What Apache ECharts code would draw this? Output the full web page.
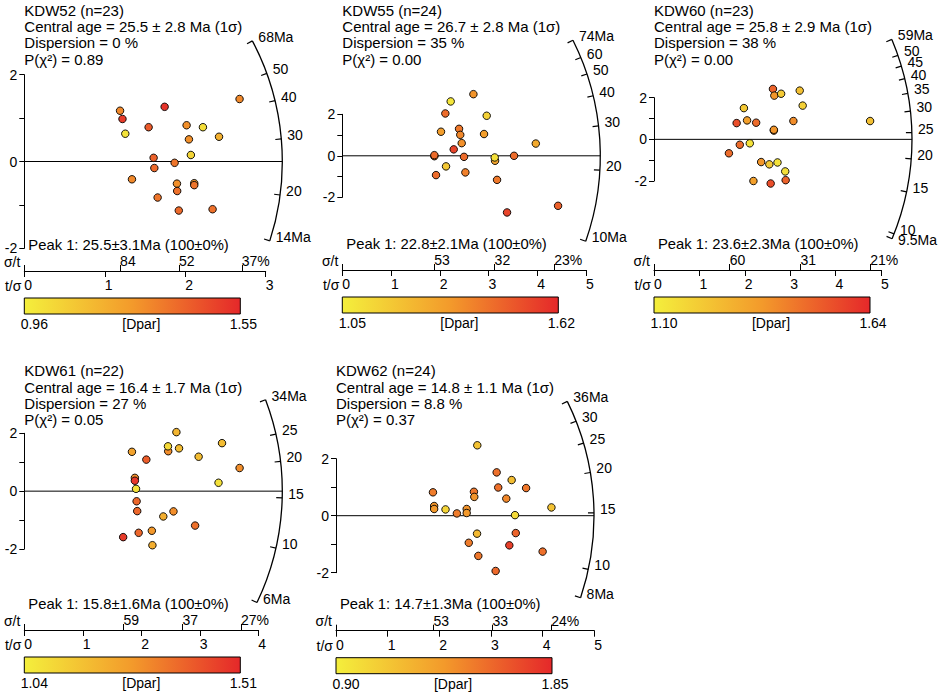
<!DOCTYPE html>
<html>
<head>
<meta charset="utf-8">
<script src="https://cdn.jsdelivr.net/npm/echarts@6/dist/echarts.min.js"></script>
<style>
html, body { margin: 0; padding: 0; background: #fff; }
#chart { width: 941px; height: 693px; }
</style>
</head>
<body>
<div id="chart"></div>
<script>
// radial plots: x = t/sigma, y = standardised estimate, colour = Dpar
var kdw52X = [1.19, 1.22, 1.255, 1.744, 1.545, 2.675, 2.017, 2.22, 2.42, 2.046, 2.07, 1.607, 1.868, 1.616, 1.338, 1.897, 2.112, 2.112, 1.90, 1.657, 1.92, 2.34];
var kdw52Y = [1.17, 0.98, 0.64, 1.26, 0.79, 1.44, 0.835, 0.79, 0.57, 0.51, 0.15, 0.085, -0.03, -0.15, -0.41, -0.51, -0.50, -0.545, -0.68, -0.83, -1.13, -1.10];
var kdw52Dpar = [1.30, 1.50, 1.00, 1.52, 1.42, 1.30, 1.28, 1.02, 1.18, 1.28, 1.05, 1.40, 1.35, 1.38, 1.30, 1.28, 1.26, 1.35, 1.36, 1.35, 1.38, 1.36];
var kdw52Ages = [68, 50, 40, 30, 20, 14];
var kdw52Sigma = [84, 52, 37];

var kdw55X = [2.224, 2.69, 2.114, 2.963, 2.025, 2.395, 2.42, 2.908, 2.45, 3.97, 2.286, 1.889, 1.889, 2.497, 3.134, 3.127, 3.524, 2.128, 1.923, 2.525, 3.175, 3.38, 4.427];
var kdw55Y = [2.62, 2.97, 2.04, 1.93, 1.16, 1.30, 1.01, 1.05, 0.61, 0.59, 0.31, -0.02, 0.03, -0.05, -0.24, -0.08, 0.0, -0.51, -0.93, -0.80, -1.16, -2.73, -2.41];
var kdw55Dpar = [1.08, 1.35, 1.45, 1.15, 1.32, 1.42, 1.38, 1.32, 1.36, 1.28, 1.55, 1.40, 1.45, 1.45, 1.30, 1.10, 1.45, 1.18, 1.45, 1.40, 1.42, 1.55, 1.48];
var kdw55Ages = [74, 60, 50, 40, 30, 20, 10];
var kdw55Sigma = [53, 32, 23];

var kdw60X = [2.62, 2.65, 2.80, 3.21, 3.275, 1.98, 2.05, 1.82, 2.25, 3.07, 4.76, 2.64, 2.64, 1.89, 2.11, 1.65, 2.36, 2.54, 2.72, 2.89, 2.19, 2.57, 2.90];
var kdw60Y = [2.42, 2.10, 2.19, 2.34, 1.62, 1.50, 0.91, 0.78, 0.80, 0.88, 0.88, 0.42, 0.46, -0.26, -0.19, -0.67, -1.09, -1.20, -1.11, -1.54, -2.00, -2.12, -1.96];
var kdw60Dpar = [1.50, 1.38, 1.22, 1.25, 1.20, 1.22, 1.35, 1.55, 1.48, 1.40, 1.25, 1.40, 1.38, 1.48, 1.14, 1.48, 1.38, 1.22, 1.14, 1.15, 1.35, 1.55, 1.50];
var kdw60Ages = [59, 50, 45, 40, 35, 30, 25, 20, 15, 10, 9.5];
var kdw60Sigma = [60, 31, 21];

var kdw61X = [2.60, 2.46, 2.456, 2.645, 1.84, 2.086, 2.98, 3.38, 3.68, 3.32, 1.89, 1.89, 1.91, 1.92, 1.93, 2.376, 2.55, 2.92, 2.18, 1.955, 1.69, 2.19];
var kdw61Y = [2.04, 1.38, 1.55, 1.48, 1.36, 1.09, 1.19, 1.66, 0.80, 0.29, 0.46, 0.36, 0.08, -0.35, -0.69, -0.875, -0.70, -1.19, -1.37, -1.44, -1.59, -1.87];
var kdw61Dpar = [1.20, 1.30, 1.10, 1.18, 1.25, 1.40, 1.18, 1.18, 1.30, 1.08, 1.30, 1.48, 1.08, 1.38, 1.38, 1.22, 1.30, 1.36, 1.28, 1.38, 1.47, 1.22];
var kdw61Ages = [34, 25, 20, 15, 10, 6];
var kdw61Sigma = [59, 37, 27];

var kdw62X = [2.735, 3.11, 3.40, 3.14, 3.68, 1.877, 2.67, 2.677, 3.296, 1.90, 1.90, 2.12, 2.34, 2.53, 2.53, 4.17, 3.465, 2.73, 3.48, 2.57, 3.355, 4.0, 2.755, 3.09];
var kdw62Y = [2.47, 1.52, 1.25, 0.99, 0.97, 0.82, 0.84, 0.66, 0.60, 0.34, 0.235, 0.22, 0.08, 0.235, 0.094, 0.29, 0.02, -0.63, -0.61, -0.95, -1.04, -1.26, -1.41, -1.94];
var kdw62Dpar = [1.15, 1.55, 1.18, 1.55, 1.52, 1.50, 1.52, 1.40, 1.45, 1.40, 1.38, 1.05, 1.50, 1.40, 1.38, 1.15, 1.02, 1.20, 1.60, 1.50, 1.75, 1.55, 1.52, 1.58];
var kdw62Ages = [36, 30, 25, 20, 15, 10, 8];
var kdw62Sigma = [53, 33, 24];

var sampleNames = ['KDW52', 'KDW55', 'KDW60', 'KDW61', 'KDW62'];
var grainCounts = [23, 24, 23, 22, 24];
var centralAges = ['25.5 ± 2.8', '26.7 ± 2.8', '25.8 ± 2.9', '16.4 ± 1.7', '14.8 ± 1.1'];
var dispersions = ['0', '35', '38', '27', '8.8'];
var pChi2 = ['0.89', '0.00', '0.00', '0.05', '0.37'];
var peakAges = [25.5, 22.8, 23.6, 15.8, 14.7];
var peakLabels = ['25.5±3.1', '22.8±2.1', '23.6±2.3', '15.8±1.6', '14.7±1.3'];
var dparMin = [0.96, 1.05, 1.10, 1.04, 0.90];
var dparMax = [1.55, 1.62, 1.64, 1.51, 1.85];
var tSigmaMax = [3, 5, 5, 4, 5];

var panels = [
    {x: kdw52X, y: kdw52Y, dpar: kdw52Dpar, ages: kdw52Ages, sigma: kdw52Sigma},
    {x: kdw55X, y: kdw55Y, dpar: kdw55Dpar, ages: kdw55Ages, sigma: kdw55Sigma},
    {x: kdw60X, y: kdw60Y, dpar: kdw60Dpar, ages: kdw60Ages, sigma: kdw60Sigma},
    {x: kdw61X, y: kdw61Y, dpar: kdw61Dpar, ages: kdw61Ages, sigma: kdw61Sigma},
    {x: kdw62X, y: kdw62Y, dpar: kdw62Dpar, ages: kdw62Ages, sigma: kdw62Sigma}
];

// pixel boxes of each plot (grid), axis line and header position
var boxes = [
    {left: 24.3, top: 74.7, width: 241.4, height: 173.6, axisY: 271, headerY: 1.8},
    {left: 342.3, top: 114.3, width: 243.7, height: 83, axisY: 270, headerY: 1.8},
    {left: 654, top: 97.7, width: 227, height: 83.3, axisY: 270, headerY: 1.8},
    {left: 24.3, top: 433.3, width: 234, height: 115.7, axisY: 630, headerY: 362.5},
    {left: 336, top: 458.7, width: 258.3, height: 114, axisY: 630.7, headerY: 362.5}
];

var FONT = '"Liberation Sans", Arial, Helvetica, sans-serif';
var ARC_R = 258;
var BAR_W = 216;
var BAR_H = 16;
var dparColors = ['#f4ef3c', '#f39a2b', '#e5282a'];

var myChart = echarts.init(document.getElementById('chart'), null, {renderer: 'svg'});

var grid = [], xAxis = [], yAxis = [], series = [], visualMap = [], graphic = [];

panels.forEach(function (p, i) {
    var b = boxes[i];
    var offset = b.axisY - (b.top + b.height);
    var t0 = peakAges[i];
    var ages = p.ages;
    var sig = p.sigma;

    grid.push({left: b.left, top: b.top, width: b.width, height: b.height});

    // t/sigma axis
    xAxis.push({
        gridIndex: i, type: 'value', min: 0, max: tSigmaMax[i], interval: 1,
        position: 'bottom', offset: offset,
        axisLine: {show: true, onZero: false, lineStyle: {color: '#000', width: 1}},
        axisTick: {show: true, length: 6, lineStyle: {color: '#000'}},
        axisLabel: {color: '#000', fontSize: 14, fontFamily: FONT, align: 'left', margin: 7},
        splitLine: {show: false}
    });
    // sigma/t axis (same line, ticks and labels above)
    xAxis.push({
        gridIndex: i, type: 'value', min: 0, max: tSigmaMax[i],
        position: 'bottom', offset: offset,
        axisLine: {show: false, onZero: false},
        axisTick: {show: true, inside: true, length: 6, lineStyle: {color: '#000'},
            customValues: [0].concat(sig.map(function (s) { return 100 / s; }))},
        axisLabel: {show: true, inside: true, color: '#000', fontSize: 14, fontFamily: FONT, align: 'left', margin: 3,
            customValues: sig.map(function (s) { return 100 / s; }),
            formatter: function (v) {
                var pct = Math.round(100 / v);
                return pct === sig[sig.length - 1] ? pct + '%' : String(pct);
            }},
        splitLine: {show: false}
    });

    yAxis.push({
        gridIndex: i, type: 'value', min: -2, max: 2, interval: 1,
        axisLine: {show: true, onZero: false, lineStyle: {color: '#000', width: 1}},
        axisTick: {show: true, length: 5, lineStyle: {color: '#000'}},
        axisLabel: {color: '#000', fontSize: 14, fontFamily: FONT, margin: 7, lineHeight: 14,
            formatter: function (v) { return v % 2 === 0 ? String(v) : ''; }},
        splitLine: {show: false}
    });

    // arc age scale + zero line
    series.push({
        type: 'custom',
        xAxisIndex: 2 * i, yAxisIndex: i,
        clip: false, silent: true, z: 2,
        data: ages.map(function (a) { return [0, 0, a]; }),
        renderItem: function (params, api) {
            var o = api.coord([0, 0]);
            var ux = api.coord([1, 0])[0] - o[0];
            var uy = o[1] - api.coord([0, 1])[1];
            function ang(a) { return Math.atan2(uy * Math.log(a / t0), ux); }
            var idx = params.dataIndex;
            var a = api.value(2);
            var th = ang(a);
            var c = Math.cos(th), s = Math.sin(th);
            var px = o[0] + ARC_R * c, py = o[1] - ARC_R * s;
            var label = String(a);
            var ly = py - 4;
            if (idx === 0 || idx === ages.length - 1) label += 'Ma';
            if (idx === ages.length - 1 && idx > 0) {
                // keep the end label clear of its neighbour
                var prevY = o[1] - ARC_R * Math.sin(ang(ages[idx - 1])) - 4;
                if (ly < prevY + 10) ly = prevY + 10;
            }
            var children = [
                {type: 'line', shape: {x1: px, y1: py, x2: o[0] + (ARC_R - 6) * c, y2: o[1] - (ARC_R - 6) * s},
                    style: {stroke: '#000', lineWidth: 1.2}},
                {type: 'text', x: px + 6, y: ly,
                    style: {text: label, fill: '#000', fontSize: 14, fontFamily: FONT, align: 'left', verticalAlign: 'middle'}}
            ];
            if (idx === 0) {
                var thTop = ang(ages[0]), thBot = ang(ages[ages.length - 1]);
                children.push({type: 'arc',
                    shape: {cx: o[0], cy: o[1], r: ARC_R, startAngle: -thTop, endAngle: -thBot, clockwise: true},
                    style: {stroke: '#000', fill: 'none', lineWidth: 1.3}});
                children.push({type: 'line', shape: {x1: o[0], y1: o[1], x2: o[0] + ARC_R, y2: o[1]},
                    style: {stroke: '#000', lineWidth: 1}});
            }
            return {type: 'group', children: children};
        }
    });

    series.push({
        type: 'scatter',
        xAxisIndex: 2 * i, yAxisIndex: i,
        clip: false, z: 3,
        symbolSize: 7.5,
        itemStyle: {borderColor: '#000', borderWidth: 0.9, opacity: 1},
        data: p.x.map(function (v, k) { return [v, p.y[k], p.dpar[k]]; })
    });

    visualMap.push({
        type: 'continuous', show: false,
        seriesIndex: series.length - 1, dimension: 2,
        min: dparMin[i], max: dparMax[i],
        inRange: {color: dparColors}
    });

    // header text
    graphic.push({type: 'text', x: b.left, y: b.headerY, silent: true,
        style: {text: [
            sampleNames[i] + ' (n=' + grainCounts[i] + ')',
            'Central age = ' + centralAges[i] + ' Ma (1σ)',
            'Dispersion = ' + dispersions[i] + ' %',
            'P(χ²) = ' + pChi2[i]
        ].join('\n'), fill: '#000', fontSize: 15, fontFamily: FONT, lineHeight: 16.4, verticalAlign: 'top'}});

    graphic.push({type: 'text', x: b.left + 4, y: b.axisY - 26.5, silent: true,
        style: {text: 'Peak 1: ' + peakLabels[i] + 'Ma (100±0%)', fill: '#000', fontSize: 14.8, fontFamily: FONT, verticalAlign: 'middle'}});

    graphic.push({type: 'text', x: b.left - 4, y: b.axisY - 9.5, silent: true,
        style: {text: 'σ/t', fill: '#000', fontSize: 14, fontFamily: FONT, lineHeight: 14, align: 'right', verticalAlign: 'middle'}});
    graphic.push({type: 'text', x: b.left - 3, y: b.axisY + 15, silent: true,
        style: {text: 't/σ', fill: '#000', fontSize: 14, fontFamily: FONT, align: 'right', verticalAlign: 'middle'}});

    // colour bar for Dpar
    var barY = b.axisY + 27;
    graphic.push({type: 'rect', silent: true,
        shape: {x: b.left, y: barY, width: BAR_W, height: BAR_H},
        style: {stroke: '#000', lineWidth: 1,
            fill: new echarts.graphic.LinearGradient(0, 0, 1, 0, [
                {offset: 0, color: dparColors[0]},
                {offset: 0.5, color: dparColors[1]},
                {offset: 1, color: dparColors[2]}
            ])}});
    graphic.push({type: 'text', x: b.left + 10, y: barY + BAR_H + 10, silent: true,
        style: {text: dparMin[i].toFixed(2), fill: '#000', fontSize: 14, fontFamily: FONT, align: 'center', verticalAlign: 'middle'}});
    graphic.push({type: 'text', x: b.left + 117, y: barY + BAR_H + 10, silent: true,
        style: {text: '[Dpar]', fill: '#000', fontSize: 14, fontFamily: FONT, align: 'center', verticalAlign: 'middle'}});
    graphic.push({type: 'text', x: b.left + BAR_W + 3, y: barY + BAR_H + 10, silent: true,
        style: {text: dparMax[i].toFixed(2), fill: '#000', fontSize: 14, fontFamily: FONT, align: 'center', verticalAlign: 'middle'}});
});

var option = {
    animation: false,
    backgroundColor: '#fff',
    grid: grid,
    xAxis: xAxis,
    yAxis: yAxis,
    visualMap: visualMap,
    series: series,
    graphic: graphic
};

myChart.setOption(option);
</script>
</body>
</html>
